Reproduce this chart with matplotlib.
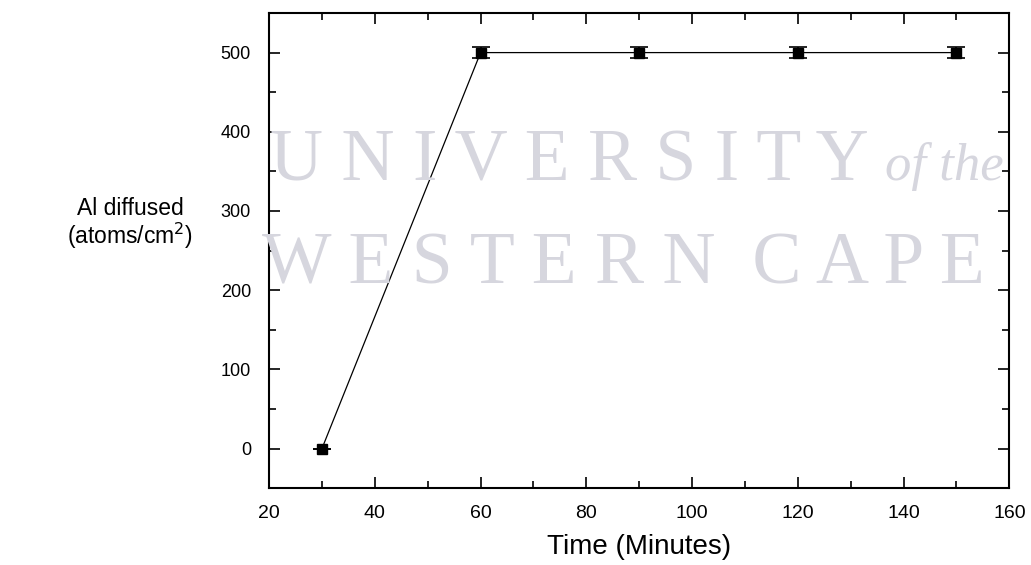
import matplotlib

matplotlib.use("Agg")
import matplotlib.pyplot as plt
from matplotlib.ticker import MultipleLocator

plt.rcParams["font.family"] = ["Liberation Sans", "DejaVu Sans"]

time_min = [30, 60, 90, 120, 150]
al_diffused = [0, 500, 500, 500, 500]
al_err = [0, 7, 7, 7, 7]

fig = plt.figure(figsize=(10.31, 5.65), dpi=100)
ax = fig.add_axes([0.261, 0.136, 0.718, 0.841])

# faint scan watermark behind the data
wm = dict(color="#d6d6de", fontfamily="Liberation Serif", zorder=0,
          transform=fig.transFigure, va="baseline", ha="left")
fig.text(0.262, 0.681, "U N I V E R S I T Y", fontsize=53, **wm)
fig.text(0.858, 0.681, "of the", fontsize=38, style="italic", **wm)
fig.text(0.254, 0.499, "W E S T E R N  C A P E", fontsize=53, **wm)

ax.patch.set_alpha(0)
ax.errorbar(time_min, al_diffused, yerr=al_err, color="black", lw=0.9,
            marker="s", ms=6.5, capsize=6.5, capthick=1.2, elinewidth=1.2, zorder=3)

ax.set_xlim(20, 160)
ax.set_ylim(-50, 550)
ax.xaxis.set_major_locator(MultipleLocator(20))
ax.xaxis.set_minor_locator(MultipleLocator(10))
ax.yaxis.set_major_locator(MultipleLocator(100))
ax.yaxis.set_minor_locator(MultipleLocator(50))
ax.tick_params(which="both", direction="in", top=True, right=True,
               width=1.2)
ax.tick_params(axis="x", labelsize=14, pad=12)
ax.tick_params(axis="y", labelsize=13, pad=13)
ax.tick_params(which="major", length=8)
ax.tick_params(which="minor", length=5)
for s in ax.spines.values():
    s.set_linewidth(1.5)

ax.set_xlabel("Time (Minutes)", fontsize=20, labelpad=9)
fig.text(0.126, 0.603, "Al diffused\n(atoms/cm$^2$)", fontsize=16.5,
         ha="center", va="center", linespacing=1.05)

fig.savefig("out.png", dpi=100)
